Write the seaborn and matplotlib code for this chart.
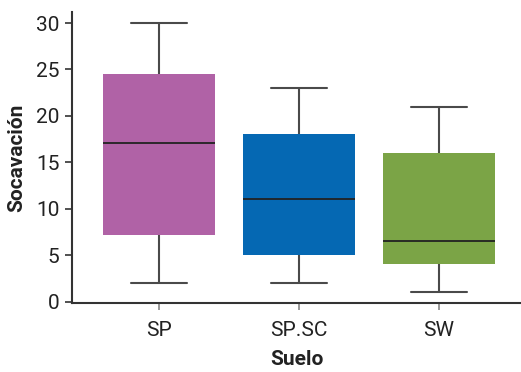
import matplotlib
matplotlib.use("Agg")
import matplotlib.pyplot as plt
import seaborn as sns
import pandas as pd

# Five-number summaries per soil class (min, Q1, median, Q3, max)
suelo = ["SP", "SP.SC", "SW"]
sp_vals = [2.0, 7.2, 17.1, 24.5, 30.0]
spsc_vals = [2.0, 5.0, 11.0, 18.1, 23.0]
sw_vals = [1.0, 4.0, 6.5, 16.0, 21.0]
colores = ["#B062A6", "#0568B3", "#7BA446"]

df = pd.DataFrame({
    "Suelo": [s for s, v in zip(suelo, [sp_vals, spsc_vals, sw_vals]) for _ in v],
    "Socavación": sp_vals + spsc_vals + sw_vals,
})

sns.set_style("white")
plt.rcParams["font.family"] = ["Roboto", "DejaVu Sans"]

fig = plt.figure(figsize=(5.21, 3.72), dpi=100)
ax = fig.add_axes([0.1382, 0.1855, 0.8618, 0.7822])

sns.boxplot(
    data=df, x="Suelo", y="Socavación", hue="Suelo", order=suelo,
    palette=dict(zip(suelo, colores)), width=0.8, whis=1.5,
    saturation=1, legend=False, ax=ax,
    boxprops=dict(edgecolor="none", linewidth=0),
    medianprops=dict(color="#222222", linewidth=1.3),
    whiskerprops=dict(color="#4a4a4a", linewidth=1.5),
    capprops=dict(color="#4a4a4a", linewidth=1.5),
    showfliers=False,
)

ax.set_ylim(-0.16, 31.19)
ax.set_xlim(-0.618, 2.589)
ax.set_yticks([0, 5, 10, 15, 20, 25, 30])

for side in ["top", "right"]:
    ax.spines[side].set_visible(False)
for side in ["left", "bottom"]:
    ax.spines[side].set_color("#333333")
    ax.spines[side].set_linewidth(1.5)

ax.tick_params(axis="y", direction="out", length=5, width=1.2, color="#333333",
               labelsize=15, labelcolor="#222222", pad=4, left=True)
ax.tick_params(axis="x", direction="out", length=5, width=1.2, color="#888888",
               labelsize=15, labelcolor="#222222", pad=8, bottom=True)

ax.set_xlabel("Suelo", fontsize=15, fontweight="bold", color="#222222", labelpad=7)
ax.set_ylabel("Socavación", fontsize=15, fontweight="bold", color="#222222", labelpad=7)

fig.savefig("out.png", dpi=100)
